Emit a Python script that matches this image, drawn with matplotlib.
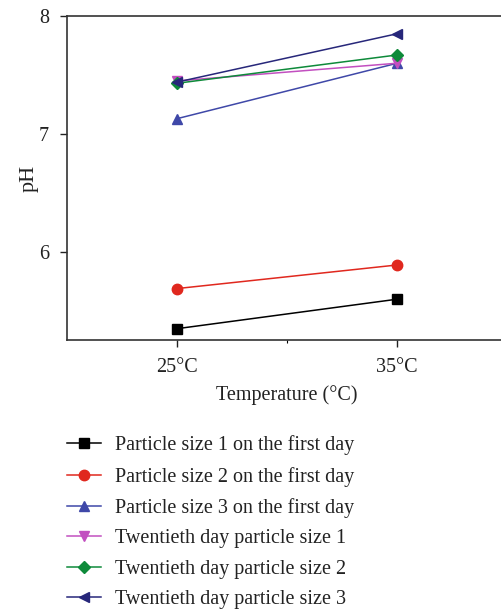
import matplotlib
matplotlib.use("Agg")
import matplotlib.pyplot as plt
from matplotlib.ticker import FixedLocator

plt.rcParams['font.family'] = ['Liberation Serif', 'DejaVu Serif']

temperatures = ["25°C", "35°C"]
series_labels = [
    "Particle size 1 on the first day",
    "Particle size 2 on the first day",
    "Particle size 3 on the first day",
    "Twentieth day particle size 1",
    "Twentieth day particle size 2",
    "Twentieth day particle size 3",
]
ph_size1_day1 = [5.35, 5.60]
ph_size2_day1 = [5.69, 5.89]
ph_size3_day1 = [7.13, 7.60]
ph_size1_day20 = [7.45, 7.60]
ph_size2_day20 = [7.43, 7.67]
ph_size3_day20 = [7.44, 7.85]

series_values = [ph_size1_day1, ph_size2_day1, ph_size3_day1,
                 ph_size1_day20, ph_size2_day20, ph_size3_day20]
colors = ["#000000", "#E0281E", "#3F48A8", "#C24FC0", "#0E8A3A", "#27277A"]
markers = ["s", "o", "^", "v", "D", "<"]
msizes = [6.5, 7.5, 7.5, 7.5, 6.5, 7.5]

fig = plt.figure(figsize=(5.02, 6.09), dpi=100)
ax = fig.add_axes([0.1335, 0.4417, 0.877, 0.532])

x = list(range(len(temperatures)))
for vals, lab, c, m, ms in zip(series_values, series_labels, colors, markers, msizes):
    ax.plot(x, vals, color=c, marker=m, markersize=ms, linewidth=1.1, label=lab)

ax.set_xlim(-0.5, 1.5)
ax.set_ylim(5.254, 8.0)
ax.set_xticks(x)
ax.set_xticklabels(temperatures)
ax.xaxis.set_minor_locator(FixedLocator([0.5]))
ax.set_yticks([6, 7, 8])
ax.tick_params(axis='both', which='major', direction='out', length=5, width=1,
               labelsize=14.5, colors='#222222', labelcolor='#222222')
ax.tick_params(axis='x', which='minor', direction='out', length=2, width=0.8)
ax.tick_params(axis='x', pad=8)
ax.tick_params(axis='y', pad=8)
ax.spines['right'].set_visible(False)
for s in ['left', 'bottom', 'top']:
    ax.spines[s].set_linewidth(1.2)
    ax.spines[s].set_color('#333333')

ax.set_xlabel("Temperature (°C)", fontsize=14.5, color='#222222', labelpad=6)
ax.set_ylabel("pH", fontsize=16, color='#222222', labelpad=0)

handles, labels = ax.get_legend_handles_labels()
fig.legend(handles, labels, loc='upper left', bbox_to_anchor=(0.118, 0.298),
           frameon=False, fontsize=14.5, handlelength=1.65, handletextpad=0.7,
           labelspacing=0.56, borderaxespad=0, labelcolor='#222222')

fig.savefig("out.png", dpi=100)
